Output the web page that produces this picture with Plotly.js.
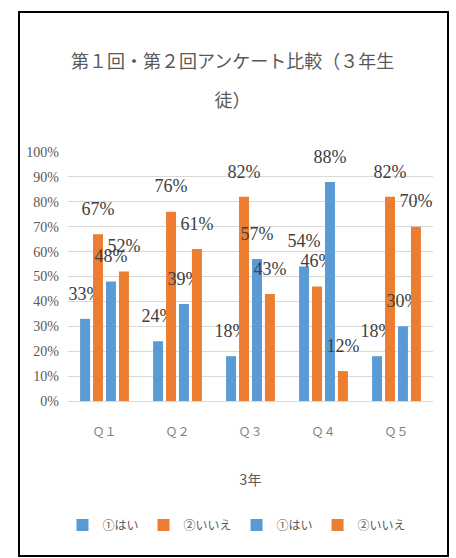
<!DOCTYPE html>
<html>
<head>
<meta charset="utf-8">
<script src="https://cdn.plot.ly/plotly-3.0.1.min.js"></script>
<style>
html,body{margin:0;padding:0;background:#fff;}
#chart{width:456px;height:558px;}
</style>
</head>
<body>
<div id="chart"></div>
<script>
var categories = ["Ｑ１", "Ｑ２", "Ｑ３", "Ｑ４", "Ｑ５"];
var seriesNames = ["①はい", "②いいえ", "①はい", "②いいえ"];
var round1Yes = [33, 24, 18, 54, 18];
var round1No  = [67, 76, 82, 46, 82];
var round2Yes = [48, 39, 57, 88, 30];
var round2No  = [52, 61, 43, 12, 70];
var yTickVals = [0, 10, 20, 30, 40, 50, 60, 70, 80, 90, 100];
var yTickText = ["0%", "10%", "20%", "30%", "40%", "50%", "60%", "70%", "80%", "90%", "100%"];
var titleLine1 = "第１回・第２回アンケート比較（３年生";
var titleLine2 = "徒）";
var xTitle = "3年";

var blue = "#5B9BD5", orange = "#ED7D31";
var series = [round1Yes, round1No, round2Yes, round2No];
var colors = [blue, orange, blue, orange];

var traces = series.map(function(vals, i){
  return {
    type: "bar",
    name: seriesNames[i],
    x: categories,
    y: vals,
    marker: {color: colors[i]},
    text: vals.map(function(v){ return "<span style='font-size:18px'>" + v + "%</span><br> "; }),
    textposition: "outside",
    constraintext: "none",
    cliponaxis: false,
    textfont: {family: "Liberation Serif", size: 11, color: "#404040"},
    hoverinfo: "none"
  };
});

var l = 68, r = 23, t = 152, b = 157;
var W = 456, H = 558;
var pw = W - l - r, ph = H - t - b;
function px(x){ return (x - l) / pw; }
function py(y){ return (H - b - y) / ph; }

var layout = {
  width: W, height: H,
  margin: {l: l, r: r, t: t, b: b},
  paper_bgcolor: "#ffffff",
  plot_bgcolor: "#ffffff",
  barmode: "group",
  bargap: 0.29,
  bargroupgap: 0.23,
  showlegend: true,
  title: {
    text: "<span style='font-size:18px'>" + titleLine1 + "</span><br><span style='font-size:18px'>" + titleLine2 + "</span>",
    font: {family: "Noto Sans CJK JP", size: 30, color: "#595959"},
    x: 0.51, xanchor: "center",
    y: 1 - 68/558, yanchor: "middle"
  },
  xaxis: {
    type: "category",
    showgrid: false,
    showline: false,
    zeroline: false,
    ticks: "",
    ticklabelstandoff: 22,
    tickfont: {family: "Noto Sans CJK JP", size: 12, color: "#7f7f7f"},
    title: {text: xTitle, standoff: 37, font: {family: "Noto Sans CJK JP", size: 14, color: "#595959"}}
  },
  yaxis: {
    range: [0, 100],
    tickvals: yTickVals,
    ticktext: yTickText,
    showgrid: true,
    gridcolor: "#d9d9d9",
    gridwidth: 1,
    zeroline: true,
    zerolinecolor: "#d9d9d9",
    showline: false,
    ticks: "",
    ticklabelstandoff: 8,
    tickfont: {family: "Liberation Serif", size: 14, color: "#595959"}
  },
  legend: {
    orientation: "h",
    x: px(237), xanchor: "center",
    y: py(525), yanchor: "middle",
    font: {family: "Noto Sans CJK JP", size: 12, color: "#595959"},
    itemwidth: 30,
    traceorder: "normal"
  },
  shapes: [{
    type: "rect", xref: "paper", yref: "paper",
    x0: px(19), x1: px(448), y0: py(556), y1: py(12),
    line: {color: "#000000", width: 2}
  }]
};

Plotly.newPlot("chart", traces, layout, {displayModeBar: false, staticPlot: true});
</script>
</body>
</html>
